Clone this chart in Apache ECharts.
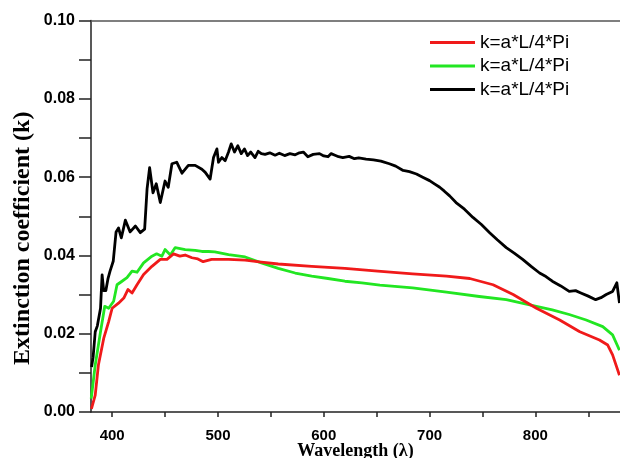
<!DOCTYPE html>
<html>
<head>
<meta charset="utf-8">
<script src="https://cdn.jsdelivr.net/npm/echarts@6/dist/echarts.min.js"></script>
<style>
html,body{margin:0;padding:0;background:#fff;}
#chart{width:620px;height:458px;}
</style>
</head>
<body>
<div id="chart"></div>
<script>
const legendLabel = 'k=a*L/4*Pi';
const seriesNames = ['k red', 'k green', 'k black'];
const xTickValues = [400, 450, 500, 550, 600, 650, 700, 750, 800, 850];
const xLabelValues = [400, 500, 600, 700, 800];
const yTickValues = [0, 0.01, 0.02, 0.03, 0.04, 0.05, 0.06, 0.07, 0.08, 0.09, 0.1];
const yLabelValues = [0, 0.02, 0.04, 0.06, 0.08, 0.1];

const redPoints = [
[380.4,0.0008],[384,0.0043],[387,0.012],[392,0.0188],[396.7,0.0231],[400,0.0265],[406,0.0278],
[411,0.0291],[415,0.0313],[418.8,0.0304],[423.5,0.0325],[429.7,0.0351],[437.6,0.0372],[445.5,0.039],
[451.8,0.039],[458,0.0404],[464,0.0398],[469,0.0401],[475.4,0.0394],[481,0.0391],[486,0.0384],
[494,0.039],[510,0.039],[525.7,0.0388],[541,0.0383],[557,0.0378],[588.6,0.0372],[620,0.0367],
[651,0.036],[684,0.0353],[716,0.0347],[738,0.0341],[760,0.0325],[779,0.030],[801,0.0265],
[823,0.0235],[842,0.0205],[860.6,0.0184],[868.4,0.0171],[873,0.0146],[879.5,0.0094]
];
const greenPoints = [
[380.2,0.0034],[384,0.012],[389,0.0205],[393,0.027],[396.7,0.0265],[401.4,0.0283],[404.6,0.0325],
[409.3,0.0334],[414,0.0343],[418.8,0.036],[423.5,0.0357],[429.7,0.0381],[437.6,0.0398],[442,0.0404],
[447,0.0398],[450,0.0415],[455,0.0401],[459.6,0.042],[469,0.0415],[478.5,0.0413],[484.8,0.041],
[491,0.041],[497,0.0409],[510,0.0402],[525.7,0.0396],[541,0.0381],[557,0.0367],[573,0.0355],
[588.6,0.0347],[604,0.0341],[620,0.0334],[636,0.033],[653,0.0324],[684,0.0317],[716,0.0306],
[747,0.0295],[772.5,0.0287],[801,0.027],[816,0.0261],[832,0.0249],[848,0.0235],[863.7,0.0218],
[873,0.0197],[879.5,0.0158]
];
const blackPoints = [
[380.5,0.0115],[382,0.014],[384,0.0205],[386,0.022],[389,0.0265],[390.5,0.035],[392,0.031],
[394,0.031],[396,0.034],[398,0.036],[401,0.0385],[403.7,0.046],[406,0.047],[408.7,0.0445],
[412.5,0.049],[417,0.046],[422,0.0475],[426.6,0.0458],[430.7,0.0467],[433,0.057],[435.4,0.0624],
[438.6,0.056],[441.7,0.0583],[445.5,0.0535],[450,0.059],[453,0.0574],[456.5,0.0634],[461,0.0638],
[466,0.061],[472,0.063],[478.5,0.063],[484.8,0.062],[488,0.0612],[492.6,0.0595],[495.8,0.065],
[499,0.0672],[500.5,0.0638],[503.7,0.065],[506.8,0.0642],[510,0.0664],[512.5,0.0685],[515.6,0.0664],
[518.8,0.068],[522,0.066],[525,0.0672],[528,0.0655],[531,0.0664],[535,0.065],[538,0.0666],
[541,0.066],[544.5,0.0658],[549,0.0662],[554,0.0656],[558,0.0661],[563,0.0655],[568,0.066],
[573,0.0657],[577,0.0662],[580.7,0.0664],[585,0.0652],[590,0.0658],[596,0.066],[600,0.0654],
[604,0.0652],[607,0.066],[610.6,0.0656],[614,0.0652],[618,0.065],[624,0.0653],[629,0.0647],
[633,0.0649],[640,0.0646],[647,0.0644],[654,0.0641],[662,0.0634],[668,0.0628],[675,0.0617],
[681,0.0614],[687.6,0.0608],[694,0.0599],[700,0.0591],[705,0.0582],[709.6,0.0574],[714,0.0564],
[719,0.0552],[725,0.0535],[733,0.0518],[741,0.0497],[749,0.0479],[756.8,0.0458],[764,0.044],
[772.5,0.042],[780,0.0406],[788,0.039],[796,0.0372],[804,0.0355],[810,0.0346],[816,0.0334],
[824,0.0322],[832,0.0308],[838,0.031],[843,0.0304],[850,0.0296],[857,0.0287],[862,0.0292],
[867,0.030],[873,0.0308],[877,0.033],[879.5,0.0278]
];
const seriesColors = ['#f01a1a', '#22e622', '#000000'];
const seriesPoints = [redPoints, greenPoints, blackPoints];

const chart = echarts.init(document.getElementById('chart'), null, {renderer: 'canvas'});
const axisColor = '#222';
const option = {
  animation: false,
  backgroundColor: '#fff',
  grid: {left: 91, right: 0, top: 20.5, bottom: 46, containLabel: false, outerBoundsMode: 'none'},
  legend: seriesNames.map((n, i) => ({
    data: [n],
    left: 430,
    top: 33 + i * 23.5,
    padding: 0,
    icon: 'rect',
    itemWidth: 45,
    itemHeight: 3,
    itemGap: 0,
    selectedMode: false,
    formatter: () => legendLabel,
    textStyle: {fontFamily: 'Liberation Sans, Arial, sans-serif', fontSize: 19, color: '#000', padding: [0,0,0,0]}
  })),
  xAxis: [{
    type: 'value', min: 380, max: 880, position: 'bottom',
    name: 'Wavelength (λ)', nameLocation: 'middle', nameGap: 30, nameMoveOverlap: false,
    nameTextStyle: {fontFamily: 'Liberation Serif, Times New Roman, serif', fontWeight: 'bold', fontSize: 18, color: '#000'},
    axisLine: {show: true, lineStyle: {color: axisColor, width: 1.5}},
    axisTick: {show: true, length: 5, customValues: xTickValues, lineStyle: {color: axisColor, width: 1.5}},
    axisLabel: {customValues: xLabelValues, margin: 16, fontFamily: 'Liberation Sans, Arial, sans-serif', fontWeight: 'bold', fontSize: 15, color: '#000'},
    splitLine: {show: false}
  }, {
    type: 'value', min: 380, max: 880, position: 'top',
    axisLine: {show: true, lineStyle: {color: '#555', width: 1.5}},
    axisTick: {show: false}, axisLabel: {show: false}, splitLine: {show: false}
  }],
  yAxis: [{
    type: 'value', min: 0, max: 0.1, position: 'left',
    name: 'Extinction coefficient (k)', nameLocation: 'middle', nameGap: 56, nameRotate: 90, nameMoveOverlap: false,
    nameTextStyle: {fontFamily: 'Liberation Serif, Times New Roman, serif', fontWeight: 'bold', fontSize: 24, color: '#000', padding: [0, 44, 0, 0]},
    axisLine: {show: true, lineStyle: {color: axisColor, width: 1.5}},
    axisTick: {show: true, length: 12, customValues: yTickValues, lineStyle: {color: axisColor, width: 1.5}},
    axisLabel: {customValues: yLabelValues, margin: 16, formatter: v => v.toFixed(2), fontFamily: 'Liberation Sans, Arial, sans-serif', fontWeight: 'bold', fontSize: 16, color: '#000'},
    splitLine: {show: false}
  }],
  series: seriesNames.map((n, i) => ({
    name: n, type: 'line', data: seriesPoints[i], symbol: 'none', showSymbol: false,
    color: seriesColors[i],
    lineStyle: {color: seriesColors[i], width: 2.8, join: 'round'},
    z: 3 - i
  }))
};
chart.setOption(option);
</script>
</body>
</html>
